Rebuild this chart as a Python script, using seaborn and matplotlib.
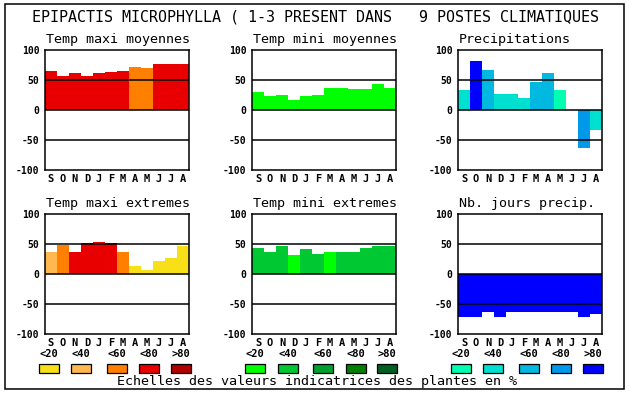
import pandas as pd
import seaborn as sns
import matplotlib.pyplot as plt
from matplotlib.patches import Rectangle

# ============================ Donnees ============================ #

months = ['S', 'O', 'N', 'D', 'J', 'F', 'M', 'A', 'M', 'J', 'J', 'A']

titre = 'EPIPACTIS MICROPHYLLA ( 1-3 PRESENT DANS   9 POSTES CLIMATIQUES'
panel_titles = ['Temp maxi moyennes', 'Temp mini moyennes', 'Precipitations',
                'Temp maxi extremes', 'Temp mini extremes', 'Nb. jours precip.']

tmax_moy = [65, 57, 61, 57, 61, 63, 65, 72, 70, 77, 77, 77]
tmin_moy = [30, 23, 25, 17, 23, 25, 37, 37, 35, 35, 43, 37]
precip = [33, 82, 67, 27, 27, 20, 47, 62, 33, 0, -63, -33]
tmax_ext = [37, 49, 37, 52, 54, 52, 37, 14, 7, 22, 26, 46]
tmin_ext = [44, 37, 46, 32, 42, 34, 37, 37, 37, 44, 46, 46]
nb_jours = [-72, -71, -64, -71, -63, -63, -63, -64, -63, -64, -71, -66]

# classes de valeurs indicatrices (0: <20 ... 4: >80)
cls_tmax_moy = [3, 3, 3, 3, 3, 3, 3, 2, 2, 3, 3, 3]
cls_tmin_moy = [0] * 12
cls_precip = [1, 4, 2, 1, 1, 1, 2, 2, 0, 0, 3, 1]
cls_tmax_ext = [1, 2, 3, 3, 3, 3, 2, 0, 0, 0, 0, 0]
cls_tmin_ext = [1, 1, 1, 0, 1, 1, 0, 1, 1, 1, 1, 1]
cls_nb_jours = [4] * 12

scale_labels = ['<20', '<40', '<60', '<80', '>80']
pal_temp = ['#f8e018', '#ffb850', '#ff8000', '#e80000', '#b00000']
pal_vert = ['#00ff00', '#00c832', '#00a030', '#008000', '#006020']
pal_bleu = ['#00ffb0', '#00e0d0', '#00b8e0', '#0098e8', '#0000ff']

legende = 'Echelles des valeurs indicatrices des plantes en %'

# ============================ Figure ============================ #

sns.set_theme(style='white')
plt.rcParams['font.family'] = ['DejaVu Sans Mono', 'DejaVu Sans']

W, H = 630, 394
fig = plt.figure(figsize=(W / 100, H / 100), dpi=100)


def px_axes(x0, y0, w, h):
    return fig.add_axes([x0 / W, 1 - (y0 + h) / H, w / W, h / H])


series = [(tmax_moy, cls_tmax_moy, pal_temp), (tmin_moy, cls_tmin_moy, pal_vert),
          (precip, cls_precip, pal_bleu), (tmax_ext, cls_tmax_ext, pal_temp),
          (tmin_ext, cls_tmin_ext, pal_vert), (nb_jours, cls_nb_jours, pal_bleu)]

col_x = [45, 252, 458]
row_y = [50, 214]

for i, (vals, cls, pal) in enumerate(series):
    x0 = col_x[i % 3]
    y0 = row_y[i // 3]
    ax = px_axes(x0, y0, 144, 120)
    df = pd.DataFrame({'pos': [str(k) for k in range(12)], 'val': vals})
    colors = [pal[c] for c in cls]
    sns.barplot(data=df, x='pos', y='val', hue='pos', palette=colors, legend=False,
                width=1.0, saturation=1, ax=ax, linewidth=0)
    for yy in (50, 0, -50):
        ax.axhline(yy, color='black', lw=1.1, zorder=3)
    ax.set_ylim(-100, 100)
    ax.set_xlim(-0.5, 11.5)
    ax.set_yticks([100, 50, 0, -50, -100])
    ax.set_yticklabels(['100', '50', '0', '-50', '-100'], fontweight='bold', fontsize=7)
    ax.set_xticks(range(12))
    ax.set_xticklabels(months, fontweight='bold', fontsize=7.5)
    ax.tick_params(length=0, pad=3, colors='black')
    ax.tick_params(axis='y', pad=4)
    ax.set_xlabel('')
    ax.set_ylabel('')
    for s in ax.spines.values():
        s.set_color('black')
        s.set_linewidth(1.1)
    fig.text((x0 + 1) / W, 1 - (y0 - 11) / H, panel_titles[i], fontsize=9.6,
             ha='left', va='center', color='black')

fig.text(315 / W, 1 - 17 / H, titre, fontsize=10.8, ha='center', va='center', color='black')

# echelles de couleurs
box_x = [[39, 71, 107, 139, 171], [245, 278, 313, 346, 377], [451, 483, 519, 551, 583]]
for pal, xs in zip([pal_temp, pal_vert, pal_bleu], box_x):
    for lab, c, bx in zip(scale_labels, pal, xs):
        fig.patches.append(Rectangle((bx / W, 1 - 373 / H), 20 / W, 9 / H,
                                     transform=fig.transFigure, facecolor=c,
                                     edgecolor='black', lw=0.9))
        fig.text((bx + 10) / W, 1 - 354 / H, lab, fontsize=7.5, fontweight='bold',
                 ha='center', va='center', color='black')

fig.text(317 / W, 1 - 382 / H, legende, fontsize=9.6, ha='center', va='center', color='black')

fig.patches.append(Rectangle((5 / W, 1 - 389 / H), 619 / W, 385 / H,
                             transform=fig.transFigure, fill=False,
                             edgecolor='black', lw=1.1))

plt.savefig('out.png', dpi=100)
